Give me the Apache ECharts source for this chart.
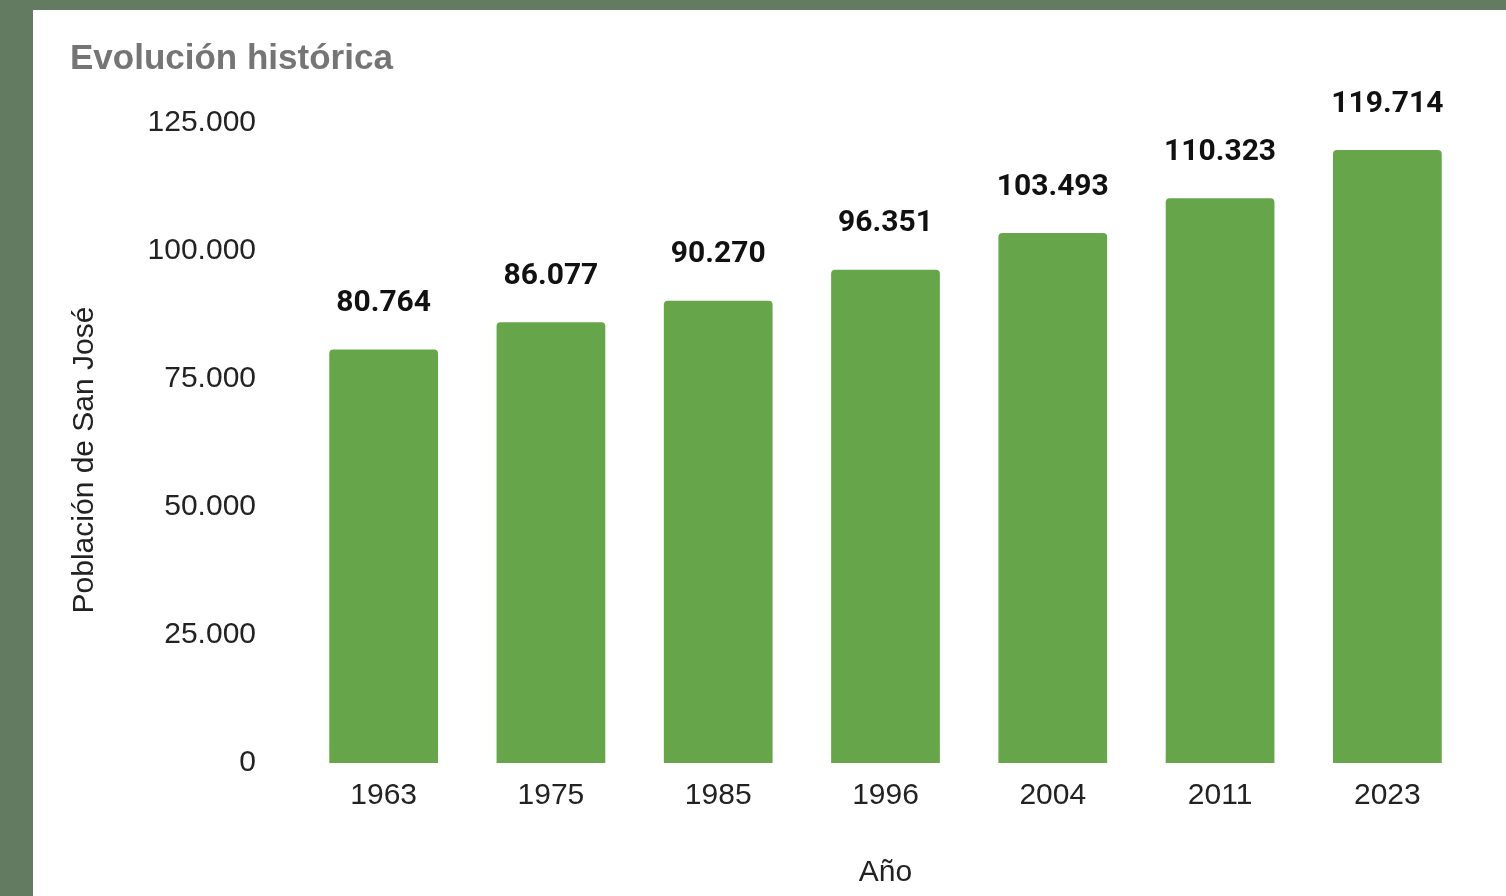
<!DOCTYPE html>
<html>
<head>
<meta charset="utf-8">
<script src="https://cdn.jsdelivr.net/npm/echarts@6/dist/echarts.min.js"></script>
<style>
  html, body { margin: 0; padding: 0; background: #637b61; width: 1506px; height: 896px; overflow: hidden; }
  #chart { position: absolute; left: 33px; top: 10px; width: 1473px; height: 886px; background: #ffffff; }
</style>
</head>
<body>
<div id="chart"></div>
<script>
// Datos
const years = ['1963', '1975', '1985', '1996', '2004', '2011', '2023'];
const population = [80764, 86077, 90270, 96351, 103493, 110323, 119714];
const yTicks = [0, 25000, 50000, 75000, 100000, 125000];

// formato con punto de miles
const fmt = v => String(v).replace(/\B(?=(\d{3})+(?!\d))/g, '.');

const chart = echarts.init(document.getElementById('chart'));

const option = {
    backgroundColor: '#ffffff',
    title: {
        text: 'Evolución histórica',
        left: 32,
        top: 27,
        textStyle: {
            fontFamily: 'Liberation Sans',
            fontSize: 35,
            fontWeight: 'bold',
            color: '#757575'
        }
    },
    grid: {
        left: 267,
        right: 35,
        top: 113,
        bottom: 133,
        outerBoundsMode: 'none'
    },
    xAxis: {
        type: 'category',
        data: years,
        name: 'Año',
        nameLocation: 'middle',
        nameGap: 95,
        nameTextStyle: { fontFamily: 'Liberation Sans', fontSize: 30, color: '#222' },
        axisLine: { show: false },
        axisTick: { show: false },
        axisLabel: {
            fontFamily: 'Liberation Sans',
            fontSize: 30,
            color: '#222',
            margin: 18
        }
    },
    yAxis: {
        type: 'value',
        min: yTicks[0],
        max: yTicks[yTicks.length - 1],
        interval: yTicks[1] - yTicks[0],
        name: 'Población de San José',
        nameLocation: 'middle',
        nameGap: 200,
        nameTextStyle: { fontFamily: 'Liberation Sans', fontSize: 30, color: '#222', padding: [0, 34, 0, 0] },
        splitLine: { show: false },
        axisLine: { show: false },
        axisTick: { show: false },
        axisLabel: {
            fontFamily: 'Liberation Sans',
            fontSize: 30,
            color: '#222',
            margin: 44,
            formatter: v => fmt(v)
        }
    },
    series: [
        {
            type: 'bar',
            data: population,
            barWidth: '65%',
            itemStyle: {
                color: '#67a54b',
                borderRadius: [4, 4, 0, 0]
            },
            label: {
                show: true,
                position: 'top',
                distance: 31,
                fontFamily: 'Roboto',
                fontWeight: 'bold',
                fontSize: 30,
                color: '#111',
                formatter: p => fmt(p.value)
            }
        }
    ]
};

chart.setOption(option);
</script>
</body>
</html>
